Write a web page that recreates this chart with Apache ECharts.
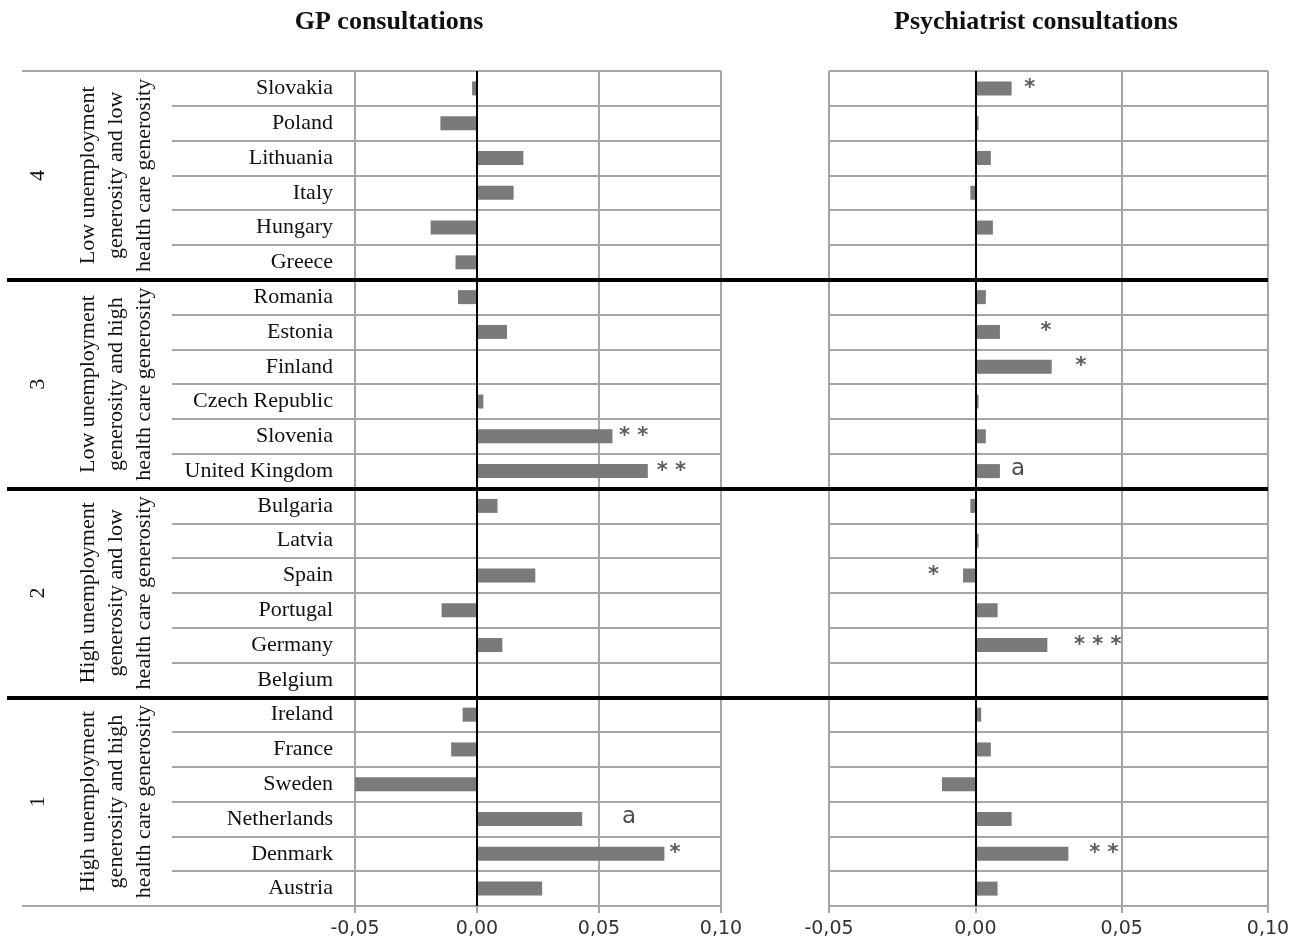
<!DOCTYPE html>
<html>
<head>
<meta charset="utf-8">
<script src="https://cdn.jsdelivr.net/npm/echarts@6/dist/echarts.min.js"></script>
<style>
  html, body { margin: 0; background: #fff; }
  #chart { width: 1306px; height: 951px; }
</style>
</head>
<body>
<div id="chart"></div>
<script>
// countries, top to bottom
const countries = [
  'Slovakia', 'Poland', 'Lithuania', 'Italy', 'Hungary', 'Greece',
  'Romania', 'Estonia', 'Finland', 'Czech Republic', 'Slovenia', 'United Kingdom',
  'Bulgaria', 'Latvia', 'Spain', 'Portugal', 'Germany', 'Belgium',
  'Ireland', 'France', 'Sweden', 'Netherlands', 'Denmark', 'Austria'
]

const gpValues = [
  -0.002, -0.015, 0.019, 0.015, -0.019, -0.0088,
  -0.0078, 0.0123, 0, 0.0026, 0.0555, 0.070,
  0.0084, 0, 0.0239, -0.0145, 0.0104, 0,
  -0.0059, -0.0106, -0.05, 0.0431, 0.0768, 0.0267
]

const psychValues = [
  0.0124, 0.0011, 0.0053, -0.0017, 0.006, 0,
  0.0036, 0.0084, 0.0261, 0.0011, 0.0036, 0.0084,
  -0.0017, 0.0011, -0.0042, 0.0076, 0.0246, 0,
  0.002, 0.0053, -0.0114, 0.0124, 0.0318, 0.0076
]

// [country, mark, x value where the mark sits]
const gpNotes = [
  ['Slovenia', '**', 0.0642],
  ['United Kingdom', '**', 0.0797],
  ['Netherlands', 'a', 0.0623],
  ['Denmark', '*', 0.0811]
]
const psychNotes = [
  ['Slovakia', '*', 0.0186],
  ['Estonia', '*', 0.0241],
  ['Finland', '*', 0.0361],
  ['United Kingdom', 'a', 0.0146],
  ['Spain', '*', -0.0143],
  ['Germany', '***', 0.0418],
  ['Denmark', '**', 0.0439]
]

const groupNumbers = ['4', '3', '2', '1']
const groupTexts = [
  ['Low unemployment', 'generosity and low', 'health care generosity'],
  ['Low unemployment', 'generosity and high', 'health care generosity'],
  ['High unemployment', 'generosity and low', 'health care generosity'],
  ['High unemployment', 'generosity and high', 'health care generosity']
]
const panelTitles = ['GP consultations', 'Psychiatrist consultations']

const xMin = -0.05
const xMax = 0.10
const xStep = 0.05

const serif = '"Liberation Serif", "Times New Roman", serif'
const sans = '"DejaVu Sans", Verdana, sans-serif'
const gridGray = '#a6a6a6'

const chart = echarts.init(document.getElementById('chart'))

function plotXAxis(gridIndex) {
  return {
    type: 'value', gridIndex, min: xMin, max: xMax, interval: xStep,
    axisLine: { show: false },
    axisTick: { show: true, length: 7, lineStyle: { color: gridGray, width: 2 } },
    axisLabel: {
      margin: 14, fontFamily: sans, fontSize: 19, color: '#333',
      formatter: v => (Math.abs(v) < 1e-9 ? 0 : v).toFixed(2).replace('.', ',')
    },
    splitLine: { show: true, lineStyle: { color: gridGray, width: 2 } }
  }
}

function plotYAxis(gridIndex) {
  return {
    type: 'category', gridIndex, data: countries, inverse: true,
    axisLine: { show: false }, axisTick: { show: false },
    axisLabel: {
      show: gridIndex === 0, interval: 0, margin: 22,
      fontFamily: serif, fontSize: 22, color: '#111'
    },
    splitLine: { show: true, interval: 0, lineStyle: { color: gridGray, width: 2 } }
  }
}

// plain value axis 0..24 used only to draw row / group lines
function lineYAxis(gridIndex, interval, color, width, ends) {
  return {
    type: 'value', gridIndex, min: 0, max: 24, interval, inverse: true, z: width > 2 ? 10 : 1,
    axisLine: { show: false }, axisTick: { show: false }, axisLabel: { show: false },
    splitLine: { show: true, showMinLine: ends, showMaxLine: ends, lineStyle: { color, width } }
  }
}

function barSeries(idx, values) {
  return {
    type: 'bar', xAxisIndex: idx, yAxisIndex: idx, data: values,
    barWidth: 14, silent: true,
    itemStyle: { color: '#7a7a7a' },
    markLine: {
      silent: true, symbol: 'none', label: { show: false },
      lineStyle: { color: '#000', width: 2, type: 'solid' },
      data: [{ xAxis: 0 }]
    }
  }
}

function noteSeries(idx, notes) {
  return {
    type: 'scatter', xAxisIndex: idx, yAxisIndex: idx, silent: true,
    symbolSize: 0, z: 5,
    data: notes.map(n => [n[2], n[0], n[1]]),
    label: {
      show: true, position: 'inside',
      formatter: p => p.data[2] === 'a' ? '{a|a}' : '{s|' + p.data[2].split('').join(' ') + '}',
      rich: {
        s: { fontFamily: sans, fontSize: 21, fontWeight: 'bold', color: '#333' },
        a: { fontFamily: sans, fontSize: 23, color: '#222', padding: [0, 0, 4, 0] }
      }
    }
  }
}

const hidden = i => ({ type: 'value', gridIndex: i, show: false, min: 0, max: 1 })

chart.setOption({
  animation: false,
  grid: [
    { left: 355, right: 585, top: 71, bottom: 45, outerBoundsMode: 'none' },
    { left: 829, right: 38, top: 71, bottom: 45, outerBoundsMode: 'none' },
    { left: 172, right: 951, top: 71, bottom: 45, outerBoundsMode: 'none' },
    { left: 22, right: 585, top: 71, bottom: 45, outerBoundsMode: 'none' },
    { left: 7, right: 38, top: 71, bottom: 45, outerBoundsMode: 'none' }
  ],
  xAxis: [plotXAxis(0), plotXAxis(1), hidden(2), hidden(3), hidden(4)],
  yAxis: [
    plotYAxis(0), plotYAxis(1),
    lineYAxis(2, 1, gridGray, 2, true),
    lineYAxis(3, 24, gridGray, 2, true),
    lineYAxis(4, 6, '#000', 4, false)
  ],
  series: [
    barSeries(0, gpValues),
    barSeries(1, psychValues),
    noteSeries(0, gpNotes),
    noteSeries(1, psychNotes)
  ]
})

// titles and rotated group labels
const graphics = []
const titleX = [389, 1036]
panelTitles.forEach((t, i) => {
  graphics.push({
    type: 'text', x: titleX[i], y: 22, silent: true,
    style: {
      text: t, font: 'bold 26px ' + serif, fill: '#111',
      align: 'center', verticalAlign: 'middle', textAlign: 'center', textVerticalAlign: 'middle'
    }
  })
})
groupNumbers.forEach((num, g) => {
  const yc = chart.convertToPixel({ yAxisIndex: 4 }, g * 6 + 3)
  graphics.push({
    type: 'text', x: 38, y: yc, rotation: Math.PI / 2, silent: true,
    style: {
      text: num, font: '22px ' + serif, fill: '#111',
      align: 'center', verticalAlign: 'middle', textAlign: 'center', textVerticalAlign: 'middle'
    }
  })
  graphics.push({
    type: 'text', x: 116, y: yc, rotation: Math.PI / 2, silent: true,
    style: {
      text: groupTexts[g].join('\n'), font: '22px ' + serif, fill: '#111', lineHeight: 28,
      align: 'center', verticalAlign: 'middle', textAlign: 'center', textVerticalAlign: 'middle'
    }
  })
})
chart.setOption({ graphic: graphics })
</script>
</body>
</html>
